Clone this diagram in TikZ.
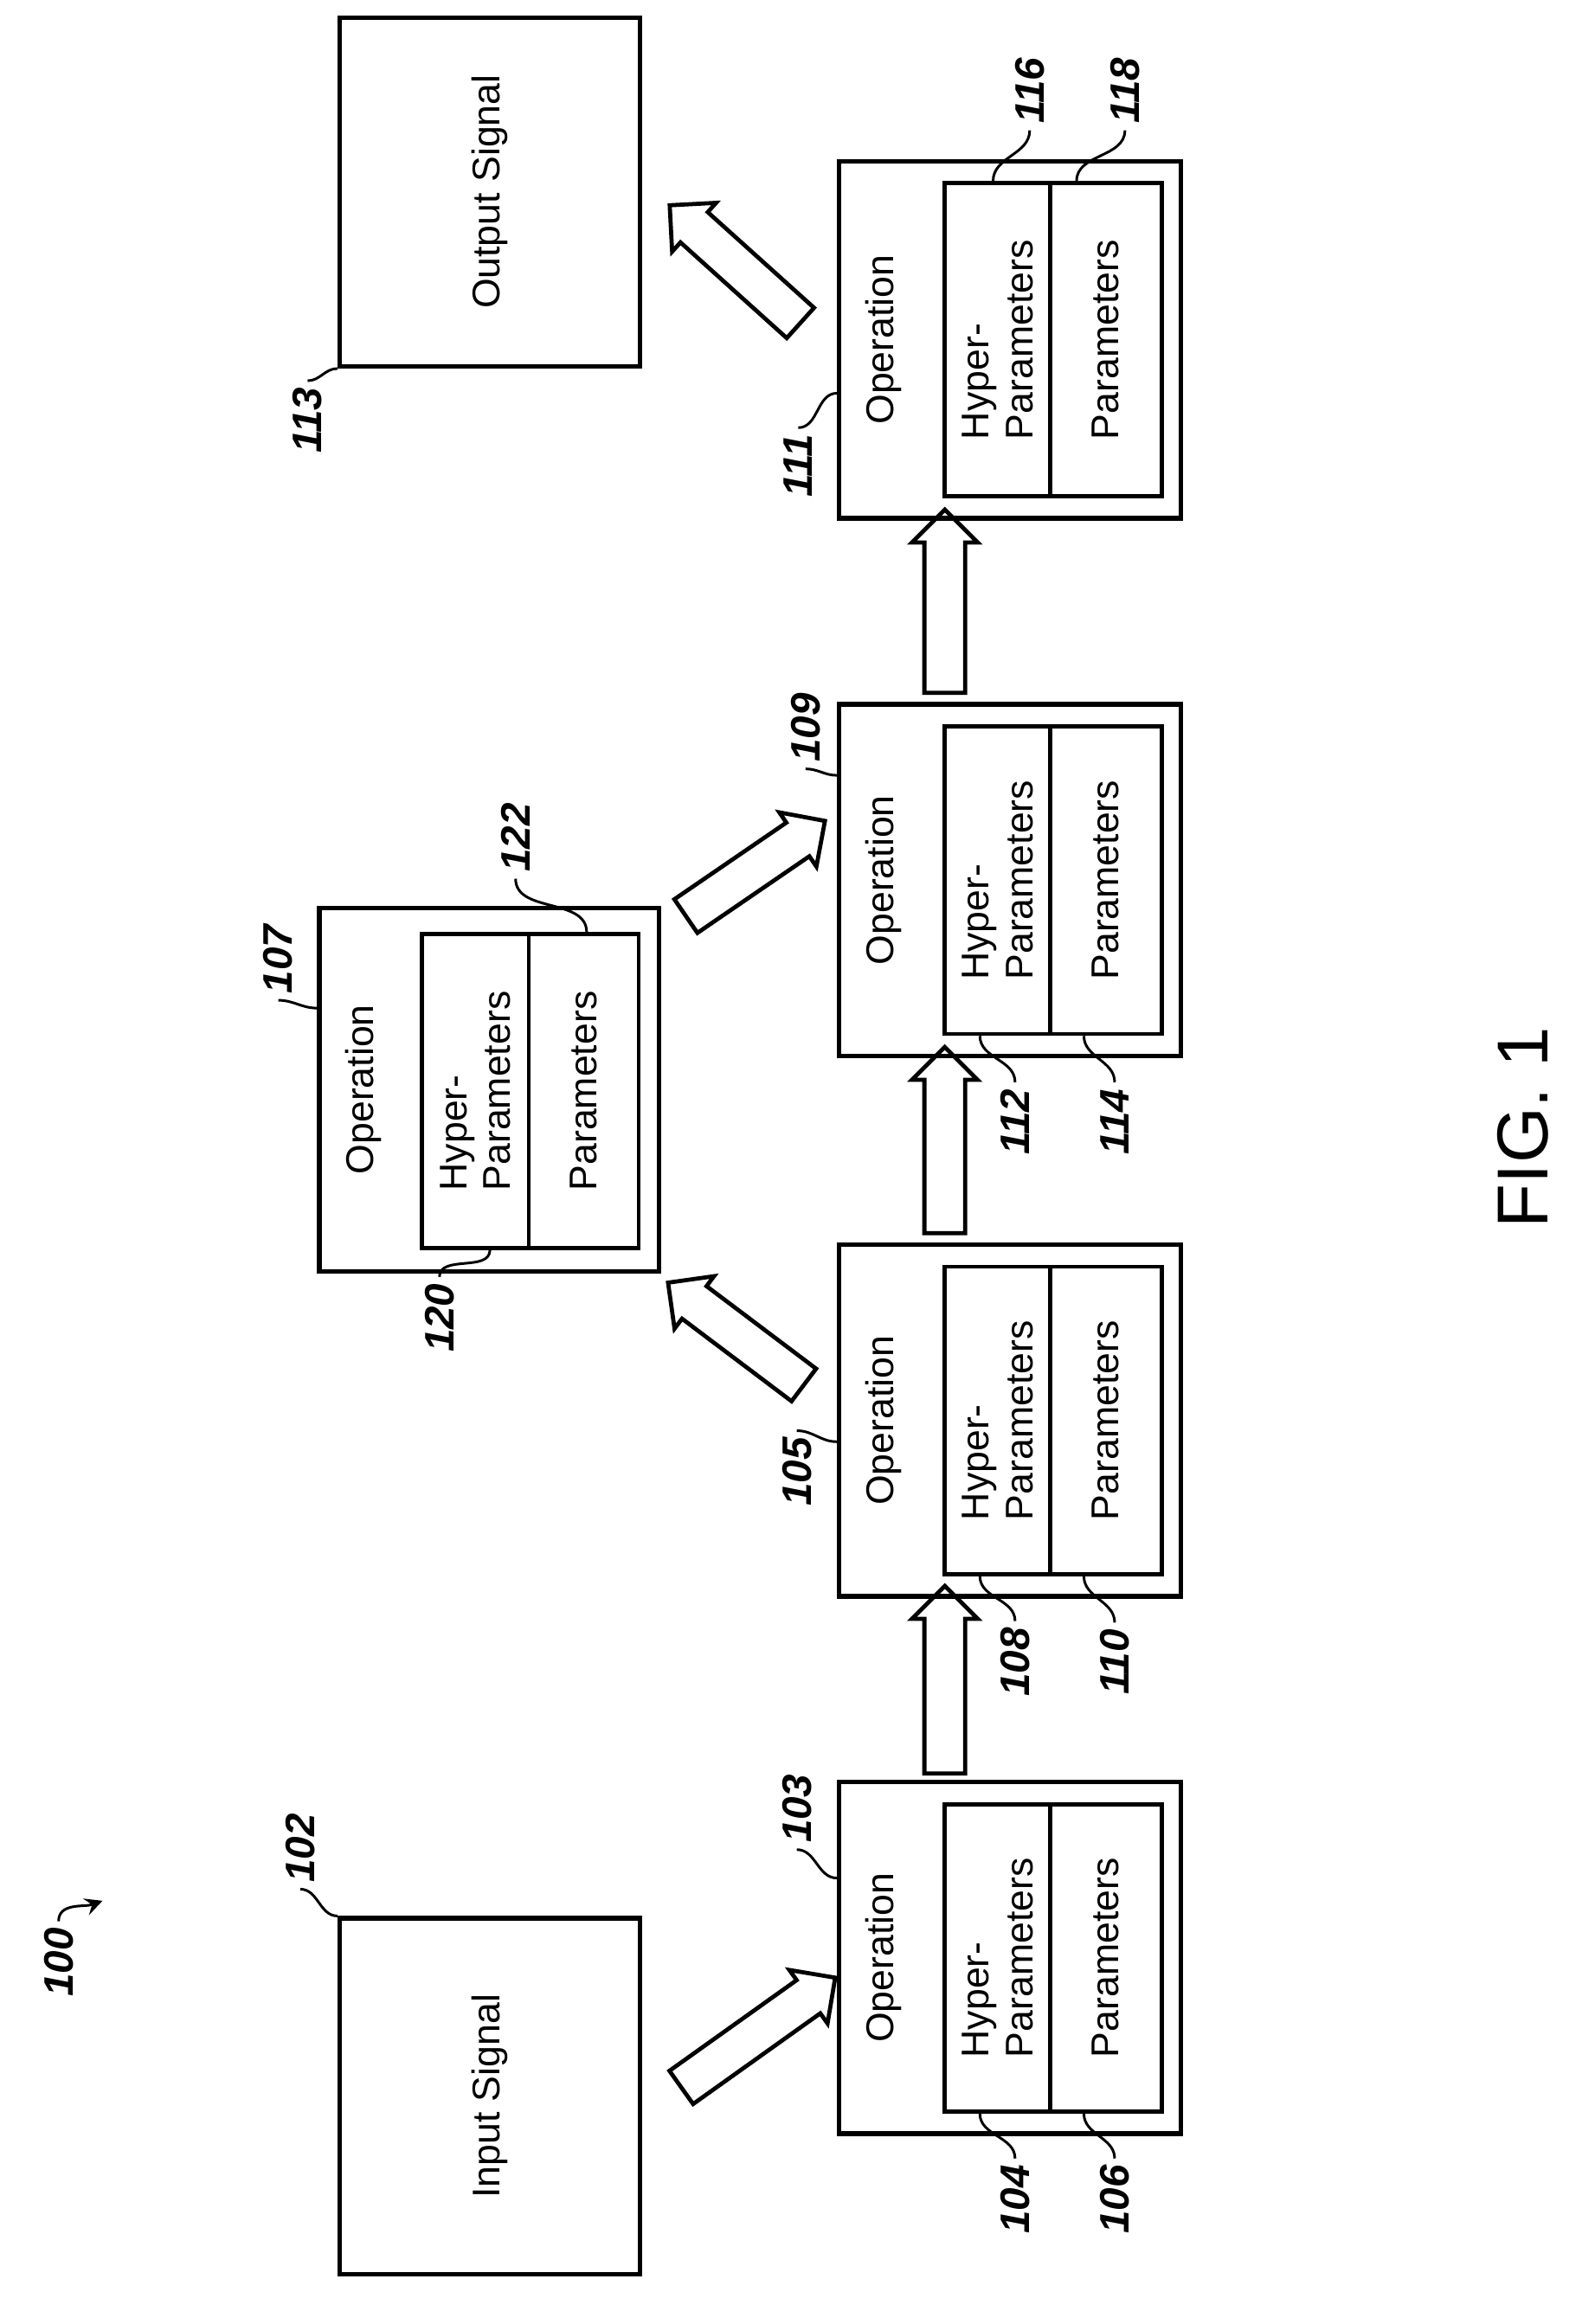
\documentclass[tikz,border=0pt]{standalone}
\usepackage{fontspec}
\setmainfont{Liberation Sans}
\usetikzlibrary{shapes.arrows,arrows,positioning}

% one operation block: name, centre x, centre y, height
\newcommand{\opblock}[4]{%
	\node[opbox, minimum height={#4*0.01cm}] (#1) at (#2,#3) {};
	\node[cell, minimum width=0.72cm, minimum height={(#4-30)*0.01cm}] (#1h) at ({#2-8.5},#3) {};
	\node[cell, minimum width=0.76cm, minimum height={(#4-30)*0.01cm}] (#1p) at ({#2+65.5},#3) {};
	\node[txt] at ({#2-86.5},#3) {Operation};
	\node[txt, align=left] at ({#2-8.5},#3) {Hyper-\\Parameters};
	\node[txt] at ({#2+65.5},#3) {Parameters};
}

\begin{document}
\begin{tikzpicture}[x=0.01cm,y=-0.01cm,semithick]
	\tikzset{opbox/.style={draw, line width=0.9pt, minimum width=2.33cm, inner sep=0},
		cell/.style={draw, line width=0.8pt, inner sep=0},
		sigbox/.style={draw, line width=0.9pt, minimum width=2.05cm, inner sep=0},
		txt/.style={rotate=90, font=\fontsize{7.5}{8.5}\selectfont, inner sep=0},
		num/.style={rotate=90, font=\fontsize{8}{9}\selectfont\bfseries\itshape, inner sep=1pt},
		lead/.style={line width=0.5pt},
		blk/.style={single arrow, draw, line width=0.8pt, inner xsep=0, inner ysep=0.125cm,
			single arrow head extend=0.085cm, single arrow tip angle=90}}
	\useasboundingbox (0,0) rectangle (1080,1587);

	\node[sigbox, minimum height=2.43cm] (in) at (334.5,1431.5) {};
	\node[txt] at (in) {Input Signal};
	\node[sigbox, minimum height=2.38cm] (out) at (334.5,131) {};
	\node[txt] at (out) {Output Signal};

	\opblock{op103}{689.5}{1337}{240}
	\opblock{op105}{689.5}{970}{240}
	\opblock{op109}{689.5}{601}{240}
	\opblock{op111}{689.5}{232}{244}

	% block 107 sits off the main line
	\node[opbox, minimum width=2.32cm, minimum height=2.48cm] (op107) at (334,744) {};
	\node[cell, minimum width=0.73cm, minimum height=2.14cm] (op107h) at (324.5,745) {};
	\node[cell, minimum width=0.75cm, minimum height=2.14cm] (op107p) at (398.5,745) {};
	\node[txt] at (248,744) {Operation};
	\node[txt, align=left] at (324.5,745) {Hyper-\\Parameters};
	\node[txt] at (398.5,745) {Parameters};

	% flow arrows
	\node[blk, minimum height=1.29cm, rotate=35.5] (a1) at (512,1392) {};
	\node[blk, minimum height=1.28cm, rotate=90] (a2) at (645,1154) {};
	\node[blk, minimum height=1.16cm, rotate=143] (a3) at (508,915) {};
	\node[blk, minimum height=1.27cm, rotate=90] (a4) at (645,785.5) {};
	\node[blk, minimum height=1.15cm, rotate=34.4] (a5) at (510,597) {};
	\node[blk, minimum height=1.25cm, rotate=90] (a6) at (645,417.5) {};
	\node[blk, minimum height=1.20cm, rotate=138] (a7) at (507,185) {};

	% reference numerals
	\node[num] (l100) at (40,1340) {100};
	\coordinate (p100) at (70,1298);
	\draw[lead, -stealth] (l100.east) to[out=90, in=200] (p100);

	\node[num] (l102) at (205,1262) {102};
	\draw[lead] (l102.west) to[out=0, in=180] (in.north west);
	\node[num] (l113) at (210,287) {113};
	\draw[lead] (l113.east) to[out=0, in=180] (out.south west);

	\node[num] (l103) at (544,1235) {103};
	\draw[lead] (l103.west) to[out=0, in=180] ([yshift=-0.67cm]op103.north west);
	\node[num] (l105) at (544,1005) {105};
	\draw[lead] (l105.east) to[out=0, in=180] ([yshift=-1.36cm]op105.north west);
	\node[num] (l109) at (550,497) {109};
	\draw[lead] (l109.west) to[out=0, in=180] ([yshift=-0.5cm]op109.north west);
	\node[num] (l111) at (545,318) {111};
	\draw[lead] (l111.east) to[out=0, in=180] ([yshift=-1.6cm]op111.north west);
	\node[num] (l107) at (190,655) {107};
	\draw[lead] (l107.west) to[out=0, in=180] ([yshift=-0.7cm]op107.north west);

	\node[num] (l104) at (693,1502) {104};
	\draw[lead] (l104.east) to[out=90, in=-90] ([xshift=-0.12cm]op103h.south);
	\node[num] (l106) at (761,1502) {106};
	\draw[lead] (l106.east) to[out=90, in=-90] ([xshift=-0.15cm]op103p.south);
	\node[num] (l108) at (693,1135) {108};
	\draw[lead] (l108.east) to[out=90, in=-90] ([xshift=-0.12cm]op105h.south);
	\node[num] (l110) at (761,1135) {110};
	\draw[lead] (l110.east) to[out=90, in=-90] ([xshift=-0.15cm]op105p.south);
	\node[num] (l112) at (693,766) {112};
	\draw[lead] (l112.east) to[out=90, in=-90] ([xshift=-0.12cm]op109h.south);
	\node[num] (l114) at (761,766) {114};
	\draw[lead] (l114.east) to[out=90, in=-90] ([xshift=-0.15cm]op109p.south);
	\node[num] (l116) at (703,62) {116};
	\draw[lead] (l116.west) to[out=-90, in=90] ([xshift=-0.03cm]op111h.north);
	\node[num] (l118) at (768,62) {118};
	\draw[lead] (l118.west) to[out=-90, in=90] ([xshift=-0.2cm]op111p.north);
	\node[num] (l120) at (300,900) {120};
	\draw[lead] (l120.east) to[out=90, in=-90] ([xshift=0.1cm]op107h.south);
	\node[num] (l122) at (352,572) {122};
	\draw[lead] (l122.west) to[out=-90, in=90] ([xshift=0.02cm]op107p.north);

	\node[rotate=90, font=\fontsize{14}{16}\selectfont] (fig) at (1040,770) {FIG. 1};
\end{tikzpicture}
\end{document}
